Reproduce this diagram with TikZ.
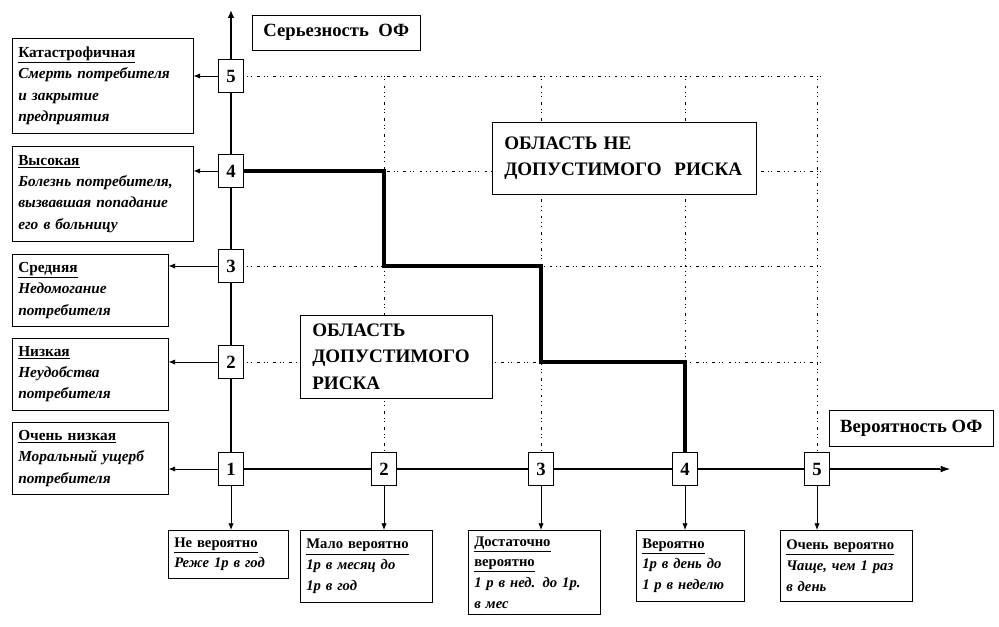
\documentclass[tikz,border=0pt]{standalone}
\usepackage{fontspec}
\setmainfont{Liberation Serif}
\usetikzlibrary{arrows.meta,positioning,backgrounds}

\begin{document}
\begin{tikzpicture}[x=0.75pt, y=-0.75pt,
  desc/.style={draw, fill=white, anchor=north west, align=left, inner xsep=4.5pt, inner ysep=3pt,
    font=\fontsize{11.5}{16}\selectfont\bfseries\itshape},
  low/.style={desc, font=\fontsize{11}{15.5}\selectfont\bfseries\itshape},
  num/.style={draw, fill=white, minimum width=19pt, minimum height=25pt, inner sep=0pt,
    font=\fontsize{14}{14}\selectfont\bfseries},
  zone/.style={draw, fill=white, anchor=north west, align=left, inner xsep=9pt, inner ysep=4pt,
    font=\fontsize{14.3}{20}\selectfont\bfseries},
  ttl/.style={draw, fill=white, anchor=north west, inner sep=0pt,
    font=\fontsize{14}{14}\selectfont\bfseries},
  grid/.style={dash pattern=on 0.6pt off 2pt on 0.6pt off 4pt on 2pt off 3pt, line width=0.6pt},
  axis/.style={line width=2.2pt},
  thin arrow/.style={line width=0.6pt, -{Latex[length=5pt,width=4pt]}}]
  \useasboundingbox (0,0) rectangle (999,627);

  % severity levels
  \node[num] (y1) at (231,469) {1};
  \foreach \k/\yy in {2/362,3/266,4/171,5/76}{
    \node[num] (y\k) at (231,\yy) {\k};
  }
  % probability levels
  \foreach \k/\xx in {2/384,3/541,4/685,5/817}{
    \node[num] (x\k) at (\xx,469) {\k};
  }

  % severity descriptions
  \node[desc, text width=126.75pt, minimum height=71.25pt] (s5) at (12,38)
    {\underline{\upshape Катастрофичная}\\Смерть потребителя\\и закрытие\\предприятия};
  \node[desc, text width=126.75pt, minimum height=71.25pt] (s4) at (12,146)
    {\underline{\upshape Высокая}\\Болезнь потребителя,\\вызвавшая попадание\\его в больницу};
  \node[desc, text width=108pt, minimum height=54pt] (s3) at (12,254)
    {\underline{\upshape Средняя}\\Недомогание\\потребителя};
  \node[desc, text width=108pt, minimum height=54pt] (s2) at (12,338)
    {\underline{\upshape Низкая}\\Неудобства\\потребителя};
  \node[desc, text width=108pt, minimum height=54pt] (s1) at (12,422)
    {\underline{\upshape Очень низкая}\\Моральный ущерб\\потребителя};

  % probability descriptions
  \node[low, text width=81pt, minimum height=36pt] (p1) at (168,530)
    {\underline{\upshape Не вероятно}\\Реже 1р в год};
  \node[low, text width=90pt, minimum height=54pt] (p2) at (300,530)
    {\underline{\upshape Мало вероятно}\\1р в месяц до\\1р в год};
  \node[low, text width=90pt, minimum height=63pt] (p3) at (468,530)
    {\underline{\upshape Достаточно}\\\underline{\upshape вероятно}\\1 р в нед. до 1р.\\в мес};
  \node[low, text width=72pt, minimum height=53pt] (p4) at (636,530)
    {\underline{\upshape Вероятно}\\1р в день до\\1 р в неделю};
  \node[low, text width=90pt, minimum height=53pt] (p5) at (780,530)
    {\underline{\upshape Очень вероятно}\\Чаще, чем 1 раз\\в день};

  % titles and zones
  \node[ttl, minimum width=126pt, minimum height=26.25pt] (sev) at (252,15) {Серьезность\ \ ОФ};
  \node[ttl, minimum width=123pt, minimum height=27pt] (prob) at (829,410) {Вероятность ОФ};
  \node[zone, text width=180pt, minimum height=54pt] (bad) at (492,122)
    {ОБЛАСТЬ НЕ\\ДОПУСТИМОГО\ \ РИСКА};
  \node[zone, text width=126pt, minimum height=62pt] (good) at (300,315)
    {ОБЛАСТЬ\\ДОПУСТИМОГО\\РИСКА};

  \begin{scope}[on background layer]
    % grid
    \foreach \yy in {76,171,266,362}{
      \draw[grid] (231,\yy) -- (822,\yy);
    }
    \foreach \xx in {384,541,685,817}{
      \draw[grid] (\xx,76) -- (\xx,469);
    }
    % axes
    \draw[axis, -{Latex[length=6pt,width=5pt]}] (y1.north) -- (231,10);
    \draw[axis] (y1.east) -- (940,469);
    \draw[line width=0.6pt, -{Latex[length=7pt,width=5pt]}] (940,469) -- (950,469);
    % boundary
    \draw[axis, line width=2.6pt] (y4.east) -- (384,171) -- (384,266) -- (541,266)
      -- (541,362) -- (685,362) -- (x4.north);
  \end{scope}

  % connectors
  \foreach \k in {1,...,5}{
    \draw[thin arrow] (y\k.west) -- (y\k.west -| s\k.east);
  }
  \draw[thin arrow] (y1.south) -- (y1.south |- p1.north);
  \foreach \k in {2,...,5}{
    \draw[thin arrow] (x\k.south) -- (x\k.south |- p\k.north);
  }
\end{tikzpicture}
\end{document}
